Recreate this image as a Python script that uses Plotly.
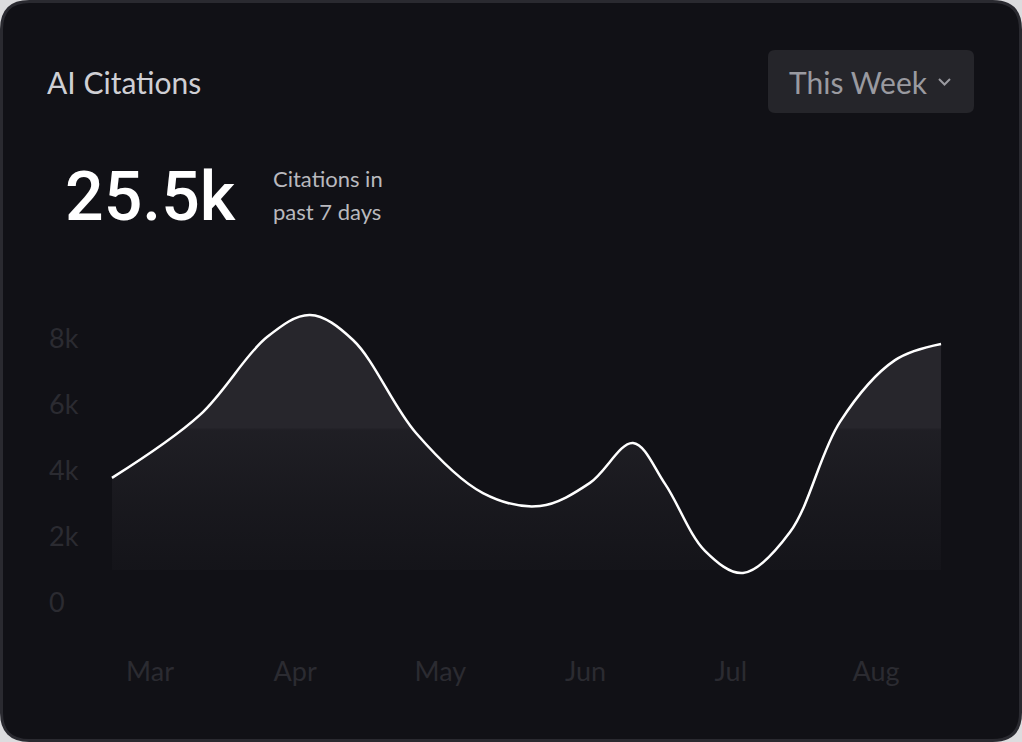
import plotly.graph_objects as go

# chart data
month_labels = ["Mar", "Apr", "May", "Jun", "Jul", "Aug"]
month_ticks = [0, 1, 2, 3, 4, 5]
month_pos = [-0.262, 0.344, 0.806, 1.102, 1.398, 1.832, 2.293, 2.686, 3.030,
             3.326, 3.547, 3.822, 4.084, 4.408, 4.752, 5.131, 5.448]
citations = [3790, 5700, 8060, 8730, 7970, 5150, 3330, 2940, 3640,
             4850, 3610, 1580, 910, 2150, 5490, 7360, 7850]
y_ticks = [0, 2000, 4000, 6000, 8000]
y_tick_text = ["0", "2k", "4k", "6k", "8k"]
fill_floor = 1000

# figure geometry in pixels
FIG_W, FIG_H = 1022, 742
L, R, T, B = 46, 62, 290, 92
W, H = FIG_W - L - R, FIG_H - T - B


def px(x):
    return (x - L) / W


def py(y):
    return 1 - (y - T) / H


def rounded_rect(x0, y0, x1, y1, r):
    # rounded rectangle path, pixel coords converted to paper coords
    pts = [
        ("M", x0 + r, y0), ("L", x1 - r, y0), ("Q", x1, y0, x1, y0 + r),
        ("L", x1, y1 - r), ("Q", x1, y1, x1 - r, y1), ("L", x0 + r, y1),
        ("Q", x0, y1, x0, y1 - r), ("L", x0, y0 + r), ("Q", x0, y0, x0 + r, y0),
    ]
    out = []
    for p in pts:
        cmd, coords = p[0], p[1:]
        conv = []
        for i in range(0, len(coords), 2):
            conv.append(f"{px(coords[i]):.5f},{py(coords[i + 1]):.5f}")
        out.append(cmd + " " + " ".join(conv))
    return " ".join(out) + " Z"


fig = go.Figure()

# invisible floor the area fills down to
fig.add_trace(go.Scatter(
    x=[month_pos[0], month_pos[-1]],
    y=[fill_floor, fill_floor],
    mode="lines",
    line=dict(width=0, color="rgba(0,0,0,0)"),
    hoverinfo="skip",
    showlegend=False,
))

fig.add_trace(go.Scatter(
    x=month_pos,
    y=citations,
    mode="lines",
    line=dict(color="#ffffff", width=2.5, shape="spline", smoothing=1.0),
    fill="tonexty",
    fillgradient=dict(
        type="vertical",
        start=fill_floor,
        stop=9000,
        colorscale=[
            [0.0, "rgba(39,38,44,0.15)"],
            [0.25, "rgba(39,38,44,0.35)"],
            [0.53, "rgba(39,38,44,0.65)"],
            [0.54, "rgba(39,38,44,1)"],
            [1.0, "rgba(39,38,44,1)"],
        ],
    ),
    hoverinfo="skip",
    showlegend=False,
))

x0 = (L - 150) / 145.2
x1 = (FIG_W - R - 150) / 145.2
y_top = (603 - T) / 33 * 1000
y_bot = (603 - (FIG_H - B)) / 33 * 1000

fig.update_xaxes(
    range=[x0, x1],
    tickvals=month_ticks,
    ticktext=month_labels,
    showgrid=False, zeroline=False, showline=False, ticks="",
    ticklabelstandoff=3,
    tickfont=dict(family="Lato", size=27, color="#2b2b31"),
)
fig.update_yaxes(
    range=[y_bot, y_top],
    tickvals=y_ticks,
    ticktext=y_tick_text,
    ticklabelposition="inside",
    showgrid=False, zeroline=False, showline=False, ticks="",
    tickfont=dict(family="Lato", size=27, color="#2b2b31"),
)

shapes = [
    # card
    dict(type="path", xref="paper", yref="paper", layer="below",
         path=rounded_rect(1.5, 1.5, 1020.5, 740.5, 28),
         fillcolor="#111116", line=dict(color="#2a2a30", width=3)),
    # "This Week" button
    dict(type="path", xref="paper", yref="paper", layer="below",
         path=rounded_rect(768, 50, 974, 113, 7),
         fillcolor="#25252a", line=dict(width=0)),
    # chevron
    dict(type="path", xref="paper", yref="paper",
         path=f"M {px(939):.5f},{py(79):.5f} L {px(944.5):.5f},{py(84.5):.5f} L {px(950):.5f},{py(79):.5f}",
         line=dict(color="#9a9aa0", width=2)),
]

annotations = [
    dict(text="AI Citations", x=px(45), y=py(82), xanchor="left", yanchor="middle",
         font=dict(family="Lato", size=30, color="#cfcfd4")),
    dict(text="25.5k", x=px(63), y=py(197), xanchor="left", yanchor="middle",
         font=dict(family="Roboto", size=68, color="#ffffff", weight=500)),
    dict(text="Citations in", x=px(271), y=py(178), xanchor="left", yanchor="middle",
         font=dict(family="Lato", size=22, color="#b9b9be")),
    dict(text="past 7 days", x=px(271), y=py(212), xanchor="left", yanchor="middle",
         font=dict(family="Lato", size=22, color="#b9b9be")),
    dict(text="This Week", x=px(787), y=py(82), xanchor="left", yanchor="middle",
         font=dict(family="Lato", size=30, color="#9a9aa0")),
]
for a in annotations:
    a.update(xref="paper", yref="paper", showarrow=False)

fig.update_layout(
    width=FIG_W, height=FIG_H,
    margin=dict(l=L, r=R, t=T, b=B),
    paper_bgcolor="#dcdcde",
    plot_bgcolor="rgba(0,0,0,0)",
    shapes=shapes,
    annotations=annotations,
    hovermode=False,
)

fig.write_html(
    "out.html",
    config={"displayModeBar": False},
    post_script="document.body.style.margin='0';document.body.style.overflow='hidden';",
)
